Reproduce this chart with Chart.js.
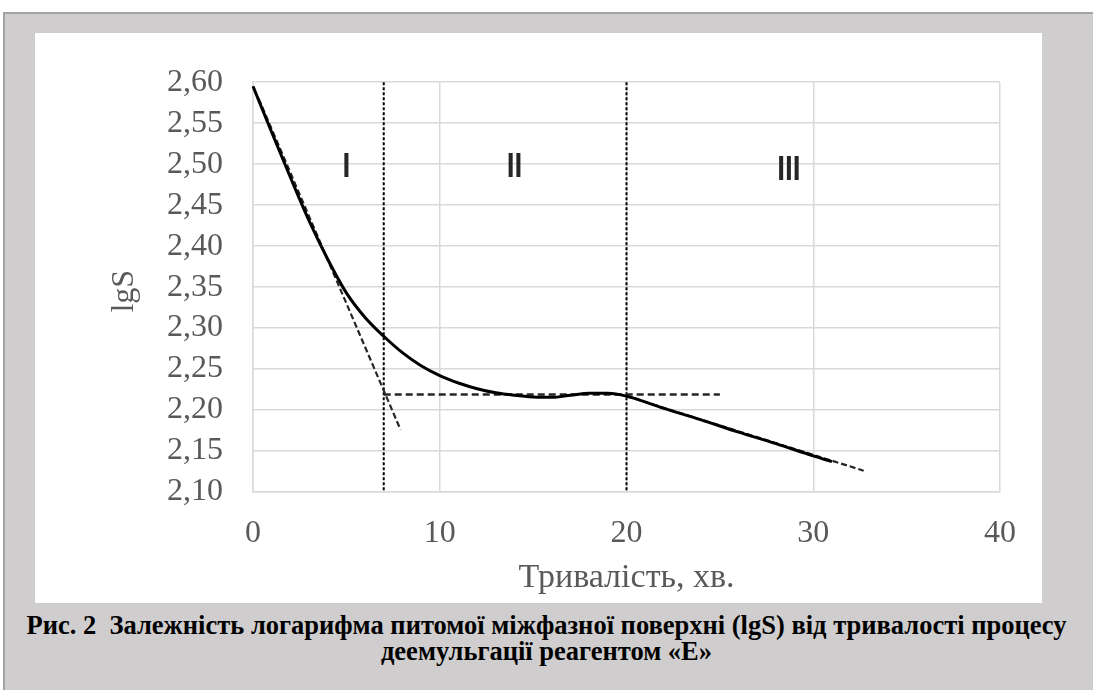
<!DOCTYPE html>
<html><head><meta charset="utf-8">
<script src="https://cdn.jsdelivr.net/npm/chart.js@4.4.1/dist/chart.umd.min.js"></script>
<style>
html,body{margin:0;padding:0;background:#fff;}
body{width:1093px;height:690px;position:relative;overflow:hidden;font-family:"Liberation Serif","Times New Roman",serif;}
#frame{position:absolute;left:3px;top:12px;width:1090px;height:678px;background:#cfcdcd;border-top:2px solid #a3a3a3;border-left:2px solid #a3a3a3;box-sizing:border-box;}
#panel{position:absolute;left:35px;top:33px;width:1007px;height:570px;background:#fff;}
#caption{position:absolute;left:0;top:612px;width:1093px;text-align:center;font-weight:bold;font-size:26.5px;line-height:26px;color:#000;white-space:nowrap;}
</style></head>
<body>
<div id="frame"></div>
<div id="panel"><canvas id="c" width="1007" height="570"></canvas></div>
<div id="caption">Рис. 2&nbsp; Залежність логарифма питомої міжфазної поверхні (lgS) від тривалості процесу<br>деемульгації реагентом «Е»</div>
<script>
// ---- data ----
const timeMin = [0, 1, 2, 3, 4, 5, 6, 7, 8, 9, 10, 11, 12, 13, 14, 15, 16, 17, 18, 19, 20, 22, 24, 26, 28, 30, 31];
const lgS     = [2.595, 2.539, 2.484, 2.431, 2.384, 2.343, 2.313, 2.290, 2.270, 2.254, 2.242, 2.233, 2.226, 2.221, 2.218, 2.216, 2.2155, 2.218, 2.2205, 2.2205, 2.217, 2.202, 2.188, 2.173, 2.159, 2.144, 2.137];
const boundaryX = [7, 20];                 // vertical dashed stage borders
const plateauX = [7, 25];  const plateauY = [2.219, 2.219];
const tangentX = [0.3, 7.9]; const tangentY = [2.580, 2.176];
const trendX = [20, 32.7];   const trendY = [2.217, 2.126];
const stageNames = ['I', 'II', 'III'];
const stageX = [5, 14, 28.7];
const stageY = [2.50, 2.50, 2.496];
const xTicks = [0, 10, 20, 30, 40];
const yTicks = [2.10, 2.15, 2.20, 2.25, 2.30, 2.35, 2.40, 2.45, 2.50, 2.55, 2.60];
const xTitle = 'Тривалість, хв.';
const yTitle = 'lgS';

const zip = (xs, ys) => xs.map((x, i) => ({x: x, y: ys[i]}));
const serif = '"Liberation Serif", "Times New Roman", serif';
const tickFont = {family: serif, size: 32};
const gray = '#595959';

const overlay = {
  id: 'overlay',
  afterDatasetsDraw(chart) {
    const {ctx, scales: {x, y}} = chart;
    ctx.save();
    ctx.fillStyle = '#262626';
    ctx.font = 'bold 28px "Liberation Sans", Arial, sans-serif';
    ctx.textAlign = 'center';
    ctx.textBaseline = 'alphabetic';
    stageNames.forEach((t, i) => {
      ctx.save();
      ctx.translate(x.getPixelForValue(stageX[i]), y.getPixelForValue(stageY[i]));
      ctx.scale(1, 1.25);
      ctx.fillText(t, 0, 10);
      ctx.restore();
    });
    // y axis title
    ctx.fillStyle = gray;
    ctx.font = '32px ' + serif;
    ctx.textBaseline = 'middle';
    ctx.translate(90, y.getPixelForValue(2.345));
    ctx.rotate(-Math.PI / 2);
    ctx.fillText(yTitle, 0, 0);
    ctx.restore();
  }
};

const dashed = (data, color, width, dash) => ({
  data: data, borderColor: color, borderWidth: width, borderDash: dash,
  pointRadius: 0, tension: 0, fill: false, clip: false
});

new Chart(document.getElementById('c'), {
  type: 'line',
  data: {
    datasets: [
      {data: zip(timeMin, lgS), borderColor: '#000', borderWidth: 3, pointRadius: 0,
       cubicInterpolationMode: 'monotone', fill: false, clip: false},
      dashed(zip(tangentX, tangentY), '#262626', 2.2, [6, 3]),
      dashed(zip(plateauX, plateauY), '#262626', 2.4, [7, 4]),
      dashed(zip(trendX, trendY), '#262626', 2.2, [6, 3]),
      dashed([{x: boundaryX[0], y: yTicks[yTicks.length - 1]}, {x: boundaryX[0], y: yTicks[0]}], '#000', 2, [3, 2]),
      dashed([{x: boundaryX[1], y: yTicks[yTicks.length - 1]}, {x: boundaryX[1], y: yTicks[0]}], '#000', 2, [3, 2])
    ]
  },
  options: {
    responsive: false,
    animation: false,
    events: [],
    layout: {padding: {left: 0, right: 42, top: 41, bottom: 0}},
    plugins: {legend: {display: false}, tooltip: {enabled: false}},
    scales: {
      x: {
        type: 'linear', min: xTicks[0], max: xTicks[xTicks.length - 1],
        afterBuildTicks: s => { s.ticks = xTicks.map(v => ({value: v})); },
        afterFit: s => { s.height = 111; },
        grid: {color: '#d9d9d9', lineWidth: 1.5, drawTicks: false},
        border: {display: true, color: '#d9d9d9', width: 1.5},
        ticks: {font: tickFont, color: gray, padding: 22, maxRotation: 0, autoSkip: false, callback: v => String(v)},
        title: {display: true, text: xTitle, color: gray,
                font: {family: serif, size: 34}, padding: {top: 0, bottom: 5}}
      },
      y: {
        type: 'linear', min: yTicks[0], max: yTicks[yTicks.length - 1],
        afterBuildTicks: s => { s.ticks = yTicks.map(v => ({value: v})); },
        afterFit: s => { s.width = 218; },
        grid: {color: '#d9d9d9', lineWidth: 1.5, drawTicks: false},
        border: {display: true, color: '#d9d9d9', width: 1.5},
        ticks: {font: tickFont, color: gray, padding: 30, autoSkip: false, callback: v => v.toFixed(2).replace('.', ',')}
      }
    }
  },
  plugins: [overlay]
});
</script>
</body></html>
